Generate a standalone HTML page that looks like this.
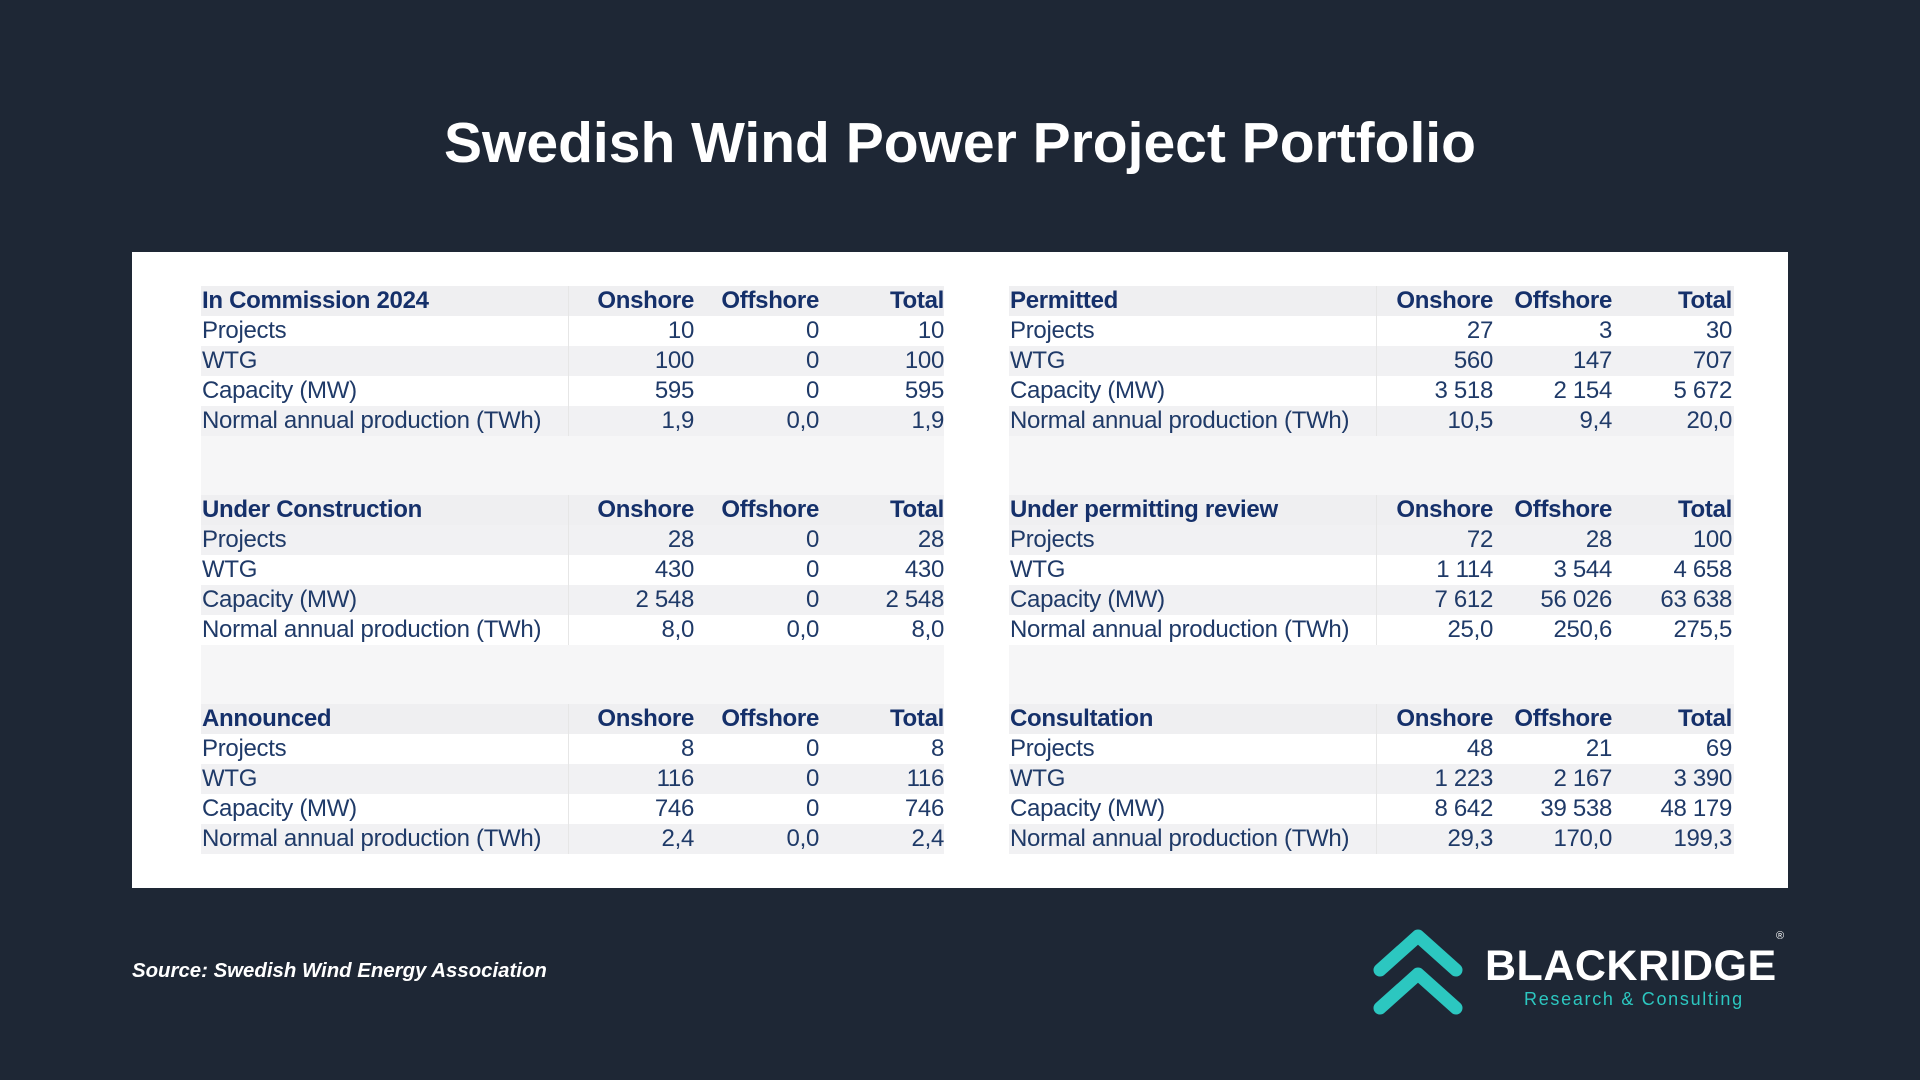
<!DOCTYPE html>
<html><head><meta charset="utf-8"><style>
*{margin:0;padding:0;box-sizing:border-box}
body{width:1920px;height:1080px;background:#1e2735;position:relative;overflow:hidden;font-family:"Liberation Sans",sans-serif}
h1{position:absolute;top:110px;left:0;width:1920px;text-align:center;color:#fff;font-size:57px;font-weight:bold}
.panel{position:absolute;left:132px;top:252px;width:1656px;height:636px;background:#fff}
.blk{position:absolute;width:743px;background:#f6f6f7}
.row{height:30px;line-height:30px;font-size:24px;color:#1f3a68;position:relative;display:flex;letter-spacing:-0.3px}
.row.h{font-weight:bold;color:#15306a;background:#efeff1}
.row.a{background:#fff}.row.b{background:#f1f1f3}
.row div{text-align:right}
.row div:first-child{text-align:left;width:368px;border-right:1px solid #e6e6e6;padding-left:1px}
.c1{width:125px}.c2{width:125px}.c3{width:125px}
.gap{height:59px}
.src{position:absolute;left:132px;top:960px;color:#fff;font-size:20.4px;font-weight:bold;font-style:italic}
.logo{position:absolute;left:1485px;top:942px;color:#fff;font-size:43px;font-weight:bold;letter-spacing:0.5px}
.sub{position:absolute;left:1524px;top:989px;color:#2cc7c0;font-size:18px;letter-spacing:1.7px}
.reg{position:absolute;left:1776px;top:930px;color:#fff;font-size:11px}
</style></head><body>
<h1>Swedish Wind Power Project Portfolio</h1>
<div class="panel"></div>
<div class="blk" style="left:201px;top:286px">
<div class="row h"><div>In Commission 2024</div><div class="c1">Onshore</div><div class="c2">Offshore</div><div class="c3">Total</div></div>
<div class="row a"><div>Projects</div><div class="c1">10</div><div class="c2">0</div><div class="c3">10</div></div>
<div class="row b"><div>WTG</div><div class="c1">100</div><div class="c2">0</div><div class="c3">100</div></div>
<div class="row a"><div>Capacity (MW)</div><div class="c1">595</div><div class="c2">0</div><div class="c3">595</div></div>
<div class="row b"><div>Normal annual production (TWh)</div><div class="c1">1,9</div><div class="c2">0,0</div><div class="c3">1,9</div></div>
<div class="gap"></div>
<div class="row h"><div>Under Construction</div><div class="c1">Onshore</div><div class="c2">Offshore</div><div class="c3">Total</div></div>
<div class="row b"><div>Projects</div><div class="c1">28</div><div class="c2">0</div><div class="c3">28</div></div>
<div class="row a"><div>WTG</div><div class="c1">430</div><div class="c2">0</div><div class="c3">430</div></div>
<div class="row b"><div>Capacity (MW)</div><div class="c1">2 548</div><div class="c2">0</div><div class="c3">2 548</div></div>
<div class="row a"><div>Normal annual production (TWh)</div><div class="c1">8,0</div><div class="c2">0,0</div><div class="c3">8,0</div></div>
<div class="gap"></div>
<div class="row h"><div>Announced</div><div class="c1">Onshore</div><div class="c2">Offshore</div><div class="c3">Total</div></div>
<div class="row a"><div>Projects</div><div class="c1">8</div><div class="c2">0</div><div class="c3">8</div></div>
<div class="row b"><div>WTG</div><div class="c1">116</div><div class="c2">0</div><div class="c3">116</div></div>
<div class="row a"><div>Capacity (MW)</div><div class="c1">746</div><div class="c2">0</div><div class="c3">746</div></div>
<div class="row b"><div>Normal annual production (TWh)</div><div class="c1">2,4</div><div class="c2">0,0</div><div class="c3">2,4</div></div>
</div>
<div class="blk" style="left:1009px;top:286px;width:725px">
<div class="row h"><div>Permitted</div><div class="c1" style="width:116px">Onshore</div><div class="c2" style="width:119px">Offshore</div><div class="c3" style="width:120px">Total</div></div>
<div class="row a"><div>Projects</div><div style="width:116px">27</div><div style="width:119px">3</div><div style="width:120px">30</div></div>
<div class="row b"><div>WTG</div><div style="width:116px">560</div><div style="width:119px">147</div><div style="width:120px">707</div></div>
<div class="row a"><div>Capacity (MW)</div><div style="width:116px">3 518</div><div style="width:119px">2 154</div><div style="width:120px">5 672</div></div>
<div class="row b"><div>Normal annual production (TWh)</div><div style="width:116px">10,5</div><div style="width:119px">9,4</div><div style="width:120px">20,0</div></div>
<div class="gap"></div>
<div class="row h"><div>Under permitting review</div><div style="width:116px">Onshore</div><div style="width:119px">Offshore</div><div style="width:120px">Total</div></div>
<div class="row b"><div>Projects</div><div style="width:116px">72</div><div style="width:119px">28</div><div style="width:120px">100</div></div>
<div class="row a"><div>WTG</div><div style="width:116px">1 114</div><div style="width:119px">3 544</div><div style="width:120px">4 658</div></div>
<div class="row b"><div>Capacity (MW)</div><div style="width:116px">7 612</div><div style="width:119px">56 026</div><div style="width:120px">63 638</div></div>
<div class="row a"><div>Normal annual production (TWh)</div><div style="width:116px">25,0</div><div style="width:119px">250,6</div><div style="width:120px">275,5</div></div>
<div class="gap"></div>
<div class="row h"><div>Consultation</div><div style="width:116px">Onshore</div><div style="width:119px">Offshore</div><div style="width:120px">Total</div></div>
<div class="row a"><div>Projects</div><div style="width:116px">48</div><div style="width:119px">21</div><div style="width:120px">69</div></div>
<div class="row b"><div>WTG</div><div style="width:116px">1 223</div><div style="width:119px">2 167</div><div style="width:120px">3 390</div></div>
<div class="row a"><div>Capacity (MW)</div><div style="width:116px">8 642</div><div style="width:119px">39 538</div><div style="width:120px">48 179</div></div>
<div class="row b"><div>Normal annual production (TWh)</div><div style="width:116px">29,3</div><div style="width:119px">170,0</div><div style="width:120px">199,3</div></div>
</div>
<div class="src">Source: Swedish Wind Energy Association</div>
<svg style="position:absolute;left:1370px;top:928px" width="96" height="90" viewBox="0 0 96 90">
<g fill="none" stroke="#2cc7c0" stroke-width="13" stroke-linecap="round" stroke-linejoin="round">
<polyline points="10,42 48,8 86,42"/>
<polyline points="10,80 48,46 86,80"/>
</g></svg>
<div class="logo">BLACKRIDGE</div>
<div class="reg">®</div>
<div class="sub">Research &amp; Consulting</div>
</body></html>
